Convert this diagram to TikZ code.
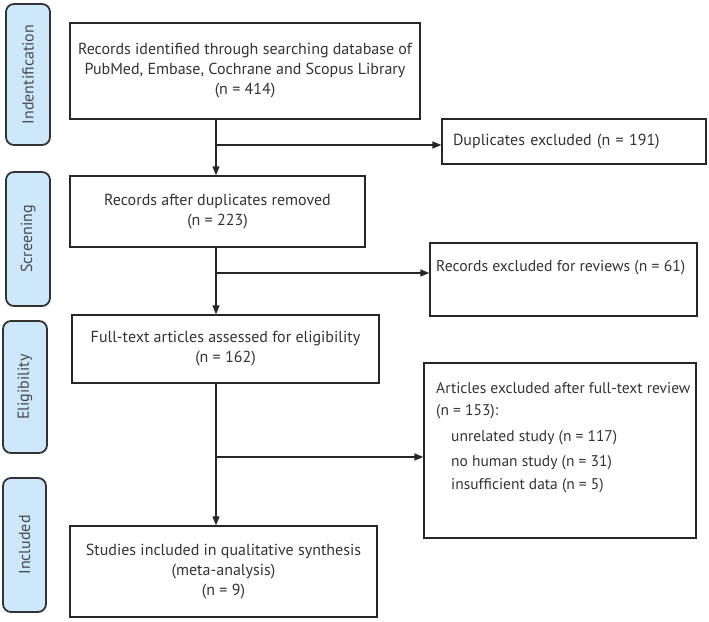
\documentclass[tikz,border=0pt]{standalone}
\usepackage{fontspec}
\setmainfont{PT Sans}
\usetikzlibrary{arrows.meta}
\definecolor{lblfill}{HTML}{CDE8FA}
\definecolor{lbldraw}{HTML}{333333}
\definecolor{lbltext}{HTML}{4A4A4A}
\definecolor{boxtext}{HTML}{333333}
\begin{document}
\begin{tikzpicture}[x=1pt,y=-1pt,
  font=\fontsize{16}{20}\selectfont,
  box/.style={draw=black!85, line width=1.3pt, rectangle, inner sep=0pt, text=boxtext, align=center},
  stage/.style={draw=lbldraw, fill=lblfill, line width=1.8pt, rounded corners=8pt, inner sep=0pt},
  stagetext/.style={rotate=90, text=lbltext},
  arr/.style={line width=1.3pt, draw=black!85, -{Triangle[length=9pt,width=7pt]}}]
\useasboundingbox (0,0) rectangle (709,621);
% stage labels
\node[stage, minimum width=44pt, minimum height=141pt] (s1) at (28,74.5) {};
\node[stagetext] (t1) at (s1) {Indentification};
\node[stage, minimum width=44pt, minimum height=134pt] (s2) at (28,239) {};
\node[stagetext] (t2) at (s2) {Screening};
\node[stage, minimum width=44pt, minimum height=132pt] (s3) at (25,387) {};
\node[stagetext] (t3) at (s3) {Eligibility};
\node[stage, minimum width=43pt, minimum height=134pt] (s4) at (24.5,545) {};
\node[stagetext] (t4) at (s4) {Included};
% main boxes
\node[box, minimum width=350pt, minimum height=96pt] (b1) at (245,71)
  {Records identified through searching database of\\PubMed, Embase, Cochrane and Scopus Library\\(n = 414)};
\node[box, minimum width=295pt, minimum height=71pt] (b2) at (217.5,211.5)
  {Records after duplicates removed\\(n = 223)};
\node[box, minimum width=307pt, minimum height=68pt] (b3) at (225.5,349)
  {Full-text articles assessed for eligibility\\(n = 162)};
\node[box, minimum width=307pt, minimum height=91pt] (b4) at (223.5,571.5)
  {Studies included in qualitative synthesis\\(meta-analysis)\\(n = 9)};
% side boxes
\node[box, minimum width=264pt, minimum height=45pt, text width=242pt, align=left] (dup) at (574,141.5)
  {Duplicates excluded (n = 191)};
\node[box, minimum width=267pt, minimum height=73pt] (rev) at (563.5,279.5) {};
\node[anchor=north west, inner sep=0pt, text=boxtext, font=\fontsize{15.7}{20}\selectfont] (revt) at (436,260) {Records excluded for reviews (n = 61)};
\node[box, minimum width=272pt, minimum height=175pt] (art) at (560,450.5) {};
\node[anchor=north west, inner sep=0pt, text=boxtext, align=left, font=\fontsize{15.5}{22}\selectfont] (artt) at (436,382)
  {Articles excluded after full-text review\\(n = 153):\\[4pt]
   \hspace*{15pt}unrelated study (n = 117)\\[3pt]
   \hspace*{15pt}no human study (n = 31)\\[1pt]
   \hspace*{15pt}insufficient data (n = 5)};
% connectors
\coordinate (spine) at (216,0);
\coordinate (j1) at (216,145);
\coordinate (j2) at (216,273);
\coordinate (j3) at (216,457);
\draw[arr] (b1.south -| spine) -- (b2.north -| spine);
\draw[arr] (j1) -- (j1 -| dup.west);
\draw[arr] (b2.south -| spine) -- (b3.north -| spine);
\draw[arr] (j2) -- (j2 -| rev.west);
\draw[arr] (b3.south -| spine) -- (b4.north -| spine);
\draw[arr] (j3) -- (j3 -| art.west);
\end{tikzpicture}
\end{document}
